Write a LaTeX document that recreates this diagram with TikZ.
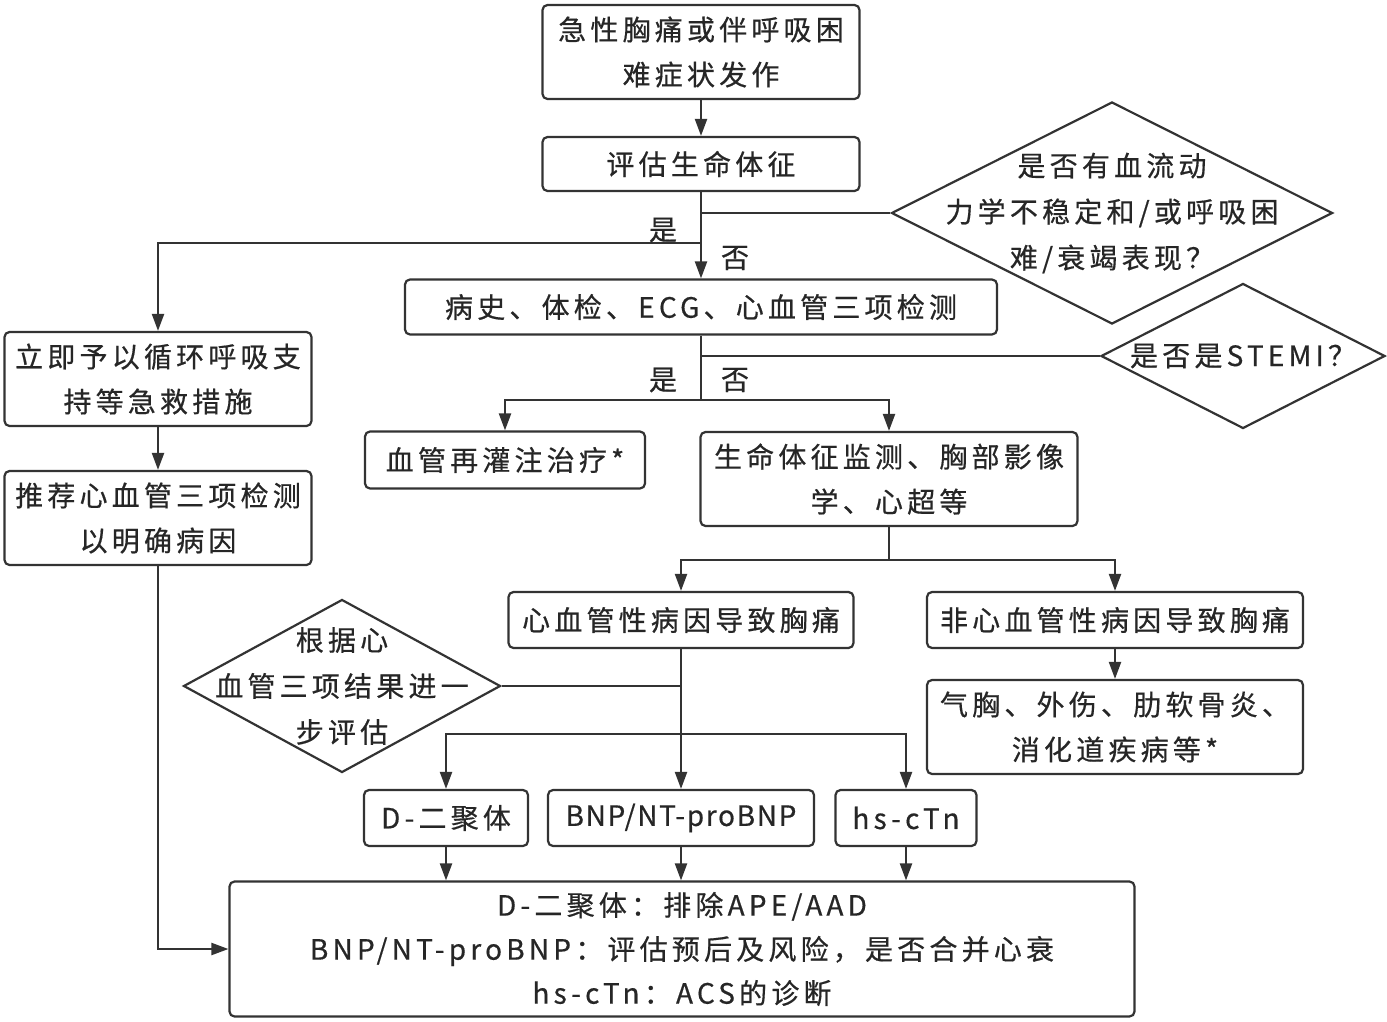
\documentclass[tikz,border=0pt]{standalone}
\usepackage{fontspec}
\newfontfamily\cjkfont{Noto Sans CJK SC}[LetterSpace=15,FakeBold=0.5]
\newfontfamily\cjktight{Noto Sans CJK SC}[LetterSpace=6,FakeBold=0.5]
\usetikzlibrary{shapes.geometric,arrows.meta}

\begin{document}
\begin{tikzpicture}[x=1pt,y=-1pt,
  box/.style={draw=black!80, line width=2.2pt, rounded corners=5pt, align=center, inner sep=0pt, text=black!85, font=\cjkfont\fontsize{28}{45}\selectfont},
  decision/.style={draw=black!80, line width=2.2pt, shape=diamond, inner sep=0pt},
  dtext/.style={align=center, inner sep=0pt, text=black!85, font=\cjkfont\fontsize{28}{46}\selectfont},
  answer/.style={inner sep=0pt, text=black!85, font=\cjkfont\fontsize{28}{30}\selectfont},
  link/.style={draw=black!80, line width=2.2pt},
  arrow/.style={link, -{Triangle[length=17pt,width=12pt]}}]
\useasboundingbox[fill=white] (0,0) rectangle (1387,1022);

% main column
\node[box, minimum width=317, minimum height=94] (onset) at (701,52) {急性胸痛或伴呼吸困\\难症状发作};
\node[box, minimum width=317, minimum height=54] (vital) at (701,164) {评估生命体征};
\node[box, minimum width=592, minimum height=55] (history) at (701,307) {病史、体检、ECG、心血管三项检测};

% decisions
\node[decision, minimum width=441, minimum height=222] (hemo) at (1112,213) {};
\node[dtext] at (hemo) {是否有血流动\\力学不稳定和/或呼吸困\\难/衰竭表现？};
\node[decision, minimum width=284, minimum height=145] (stemi) at (1243,356) {};
\node[dtext] at (stemi) {是否是STEMI？};

% left column
\node[box, minimum width=307, minimum height=94] (rescue) at (158,379) {立即予以循环呼吸支\\持等急救措施};
\node[box, minimum width=307, minimum height=94] (recommend) at (158,518) {推荐心血管三项检测\\以明确病因};

% STEMI branches
\node[box, minimum width=280, minimum height=57] (reperf) at (505,460) {血管再灌注治疗*};
\node[box, minimum width=377, minimum height=94] (monitor) at (889,479) {生命体征监测、胸部影像\\学、心超等};

% cause branches
\node[box, minimum width=345, minimum height=56] (cardio) at (681,620) {心血管性病因导致胸痛};
\node[box, minimum width=376, minimum height=56] (noncardio) at (1115,620) {非心血管性病因导致胸痛};
\node[box, minimum width=376, minimum height=94] (others) at (1115,727) {气胸、外伤、肋软骨炎、\\消化道疾病等*};

\node[decision, minimum width=317, minimum height=173] (assess) at (342,686) {};
\node[dtext] at (assess) {根据心\\血管三项结果进一\\步评估};

% markers
\node[box, minimum width=164, minimum height=56] (ddimer) at (446,818) {D-二聚体};
\node[box, minimum width=266, minimum height=56, font=\cjktight\fontsize{28}{45}\selectfont] (bnp) at (681,818) {BNP/NT-proBNP};
\node[box, minimum width=141, minimum height=56] (hsctn) at (906,818) {hs-cTn};
\node[box, minimum width=905, minimum height=135, font=\cjkfont\fontsize{28}{44}\selectfont] (summary) at (682,949) {D-二聚体：排除APE/AAD\\BNP/NT-proBNP：评估预后及风险，是否合并心衰\\hs-cTn：ACS的诊断};

% connectors
\coordinate (yesturn) at (701,243);
\coordinate (hsplit) at (701,400);
\coordinate (msplit) at (889,560);
\coordinate (csplit) at (681,734);

\draw[arrow] (onset) -- (vital);
\draw[arrow] (vital) -- (history);
\draw[link] (vital.south |- hemo.west) -- (hemo.west);
\draw[arrow] (yesturn) -| (rescue.north);
\node[answer] (yes1) at (663,230) {是};
\node[answer] (no1) at (735,258) {否};

\draw[link] (history.south) -- (hsplit);
\draw[link] (history.south |- stemi.west) -- (stemi.west);
\draw[arrow] (hsplit) -| (reperf.north);
\draw[arrow] (hsplit) -| (monitor.north);
\node[answer] (yes2) at (663,380) {是};
\node[answer] (no2) at (735,380) {否};

\draw[arrow] (rescue) -- (recommend);
\draw[arrow] (recommend.south) |- (summary.west);

\draw[link] (monitor.south) -- (msplit);
\draw[arrow] (msplit) -| (cardio.north);
\draw[arrow] (msplit) -| (noncardio.north);
\draw[arrow] (noncardio) -- (others);

\draw[arrow] (cardio) -- (bnp);
\draw[link] (cardio.south |- assess.east) -- (assess.east);
\draw[arrow] (csplit) -| (ddimer.north);
\draw[arrow] (csplit) -| (hsctn.north);

\draw[arrow] (ddimer.south) -- (ddimer.south |- summary.north);
\draw[arrow] (bnp.south) -- (bnp.south |- summary.north);
\draw[arrow] (hsctn.south) -- (hsctn.south |- summary.north);
\end{tikzpicture}
\end{document}
